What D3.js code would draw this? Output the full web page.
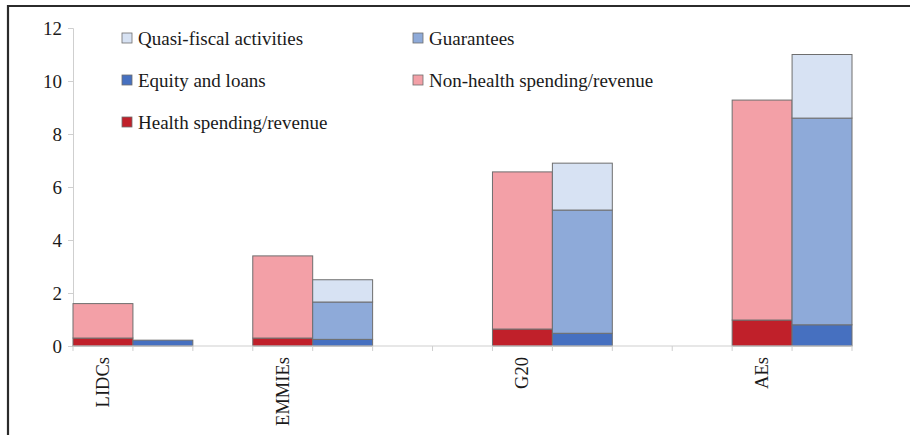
<!DOCTYPE html>
<html>
<head>
<meta charset="utf-8">
<script src="https://cdn.jsdelivr.net/npm/d3@7"></script>
<style>
  html, body { margin: 0; padding: 0; background: #fff; }
  svg { display: block; }
  text { font-family: "Liberation Serif", "Times New Roman", serif; fill: #1a1a1a; }
</style>
</head>
<body>
<svg id="chart" width="910" height="435"></svg>
<script>
// ---- data ----
const categories = ["LIDCs", "EMMIEs", "G20", "AEs"];
const blankSlotsAfter = [1, 2, 2];          // empty category slots between groups
const healthSpending   = [0.30, 0.30, 0.64, 0.98];
const nonHealthSpending = [1.30, 3.10, 5.93, 8.30];
const equityLoans      = [0.22, 0.25, 0.48, 0.80];
const guarantees       = [0.00, 1.41, 4.65, 7.80];
const quasiFiscal      = [0.00, 0.84, 1.77, 2.40];
const yTicks = [0, 2, 4, 6, 8, 10, 12];
const legendItems = [
  ["Quasi-fiscal activities", "quasi"],
  ["Guarantees", "guar"],
  ["Equity and loans", "equity"],
  ["Non-health spending/revenue", "nonhealth"],
  ["Health spending/revenue", "health"]
];

// ---- styles ----
const colors = {
  health: "#c0202a",
  nonhealth: "#f3a0a7",
  equity: "#4670c0",
  guar: "#8eaad9",
  quasi: "#d7e2f3"
};

const svg = d3.select("#chart");
const W = 910, H = 435;
const margin = { left: 73, right: 58, top: 28, bottom: 89 };

// frame
svg.append("line").attr("x1", 8).attr("x2", W).attr("y1", 6).attr("y2", 6)
  .attr("stroke", "#2b2b2b").attr("stroke-width", 2.2);
svg.append("line").attr("x1", 8).attr("x2", 8).attr("y1", 5).attr("y2", H)
  .attr("stroke", "#2b2b2b").attr("stroke-width", 2.2);

// slot domain: each category has a fiscal slot and a contingent slot, then blanks
const slots = [];
categories.forEach((c, i) => {
  slots.push(c + "|fiscal", c + "|contingent");
  if (i < blankSlotsAfter.length) for (let k = 0; k < blankSlotsAfter[i]; k++) slots.push("blank" + i + "_" + k);
});

const x = d3.scaleBand().domain(slots).range([margin.left, W - margin.right]).padding(0);
const y = d3.scaleLinear().domain([0, 12]).range([H - margin.bottom, margin.top]);

// y axis
const yAxis = svg.append("g").attr("transform", `translate(${margin.left},0)`)
  .call(d3.axisLeft(y).tickValues(yTicks).tickSize(5).tickPadding(6).tickFormat(d3.format("d")));
yAxis.select(".domain").attr("stroke", "#cfcfcf");
yAxis.selectAll(".tick line").attr("stroke", "#cfcfcf");
yAxis.selectAll(".tick text").style("font-size", "19px").attr("fill", "#1a1a1a")
  .style("font-family", '"Liberation Serif", serif');

// bars
const rows = categories.map((c, i) => ({
  cat: c,
  fiscal: [["health", healthSpending[i]], ["nonhealth", nonHealthSpending[i]]],
  contingent: [["equity", equityLoans[i]], ["guar", guarantees[i]], ["quasi", quasiFiscal[i]]]
}));

const barG = svg.append("g");
rows.forEach(r => {
  ["fiscal", "contingent"].forEach(kind => {
    let cum = 0;
    r[kind].forEach(([key, v]) => {
      if (v <= 0) return;
      const y0 = cum, y1 = cum + v;
      cum = y1;
      barG.append("rect")
        .attr("x", x(r.cat + "|" + kind))
        .attr("width", x.bandwidth())
        .attr("y", y(y1))
        .attr("height", y(y0) - y(y1))
        .attr("fill", colors[key])
        .attr("stroke", "#6e6e6e")
        .attr("stroke-width", 1);
    });
  });
});

// x axis
const xAxisY = y(0);
const xg = svg.append("g");
xg.append("line").attr("x1", margin.left).attr("x2", W - margin.right)
  .attr("y1", xAxisY).attr("y2", xAxisY).attr("stroke", "#cfcfcf");
const boundaries = slots.map(s => x(s)).concat([x(slots[slots.length - 1]) + x.bandwidth()]);
xg.selectAll("line.tk").data(boundaries).enter().append("line").attr("class", "tk")
  .attr("x1", d => d).attr("x2", d => d).attr("y1", xAxisY).attr("y2", xAxisY + 5)
  .attr("stroke", "#cfcfcf");
xg.selectAll("text.cat").data(categories).enter().append("text").attr("class", "cat")
  .attr("transform", d => `translate(${x(d + "|fiscal") + x.bandwidth() / 2 + 6},${xAxisY + 11}) rotate(-90)`)
  .attr("text-anchor", "end")
  .style("font-size", "18.5px")
  .text(d => d);

// legend
const legendPos = [[122, 38], [413, 38], [122, 80], [413, 80], [122, 122]];
const lg = svg.append("g");
legendItems.forEach(([label, key], i) => {
  const [lx, ly] = legendPos[i];
  lg.append("rect").attr("x", lx).attr("y", ly - 5).attr("width", 10).attr("height", 10)
    .attr("fill", colors[key]).attr("stroke", "#6e6e6e").attr("stroke-width", 0.8);
  lg.append("text").attr("x", lx + 16).attr("y", ly).attr("dy", "0.35em")
    .style("font-size", "19px").text(label);
});
</script>
</body>
</html>
